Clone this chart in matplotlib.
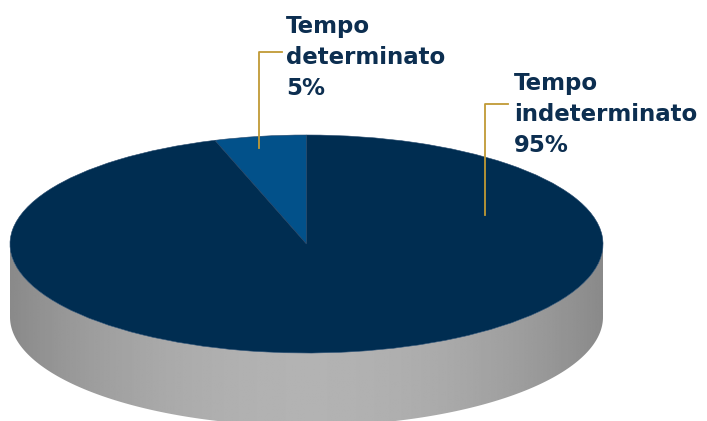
import numpy as np
import matplotlib
matplotlib.use("Agg")
import matplotlib.pyplot as plt
from matplotlib.patches import Polygon

labels = ["Tempo\ndeterminato\n5%", "Tempo\nindeterminato\n95%"]
values = [5, 95]
colors = ["#02518a", "#002d51"]

W, H = 707, 421
fig = plt.figure(figsize=(W / 100, H / 100), dpi=100)

# pie axes: unit ellipse mapped onto pixel box
cx, cy, a, b = 306.5, 244.0, 296.5, 109.0
depth = 73.0 / b
ax = fig.add_axes([0, 0, 1, 1])
ax.pie(values, colors=colors, startangle=90, counterclock=True, radius=1,
       center=(0, 0), frame=True, wedgeprops=dict(linewidth=0.4, edgecolor="#23476b"))
ax.set_aspect("auto")
ax.axis("off")

# side of the cylinder with gray gradient
t = np.linspace(np.pi, 2 * np.pi, 200)
top = np.column_stack([np.cos(t), np.sin(t)])
bot = np.column_stack([np.cos(t[::-1]), np.sin(t[::-1]) - depth])
side = Polygon(np.vstack([top, bot]), closed=True, facecolor="none", edgecolor="none")
ax.add_patch(side)
gx = np.linspace(-1, 1, 400)
g = 0.54 + 0.16 * (1 - gx ** 2)
img = np.tile(g, (2, 1))
im = ax.imshow(img, cmap="gray", vmin=0, vmax=1, extent=[-1, 1, -1 - depth, 0],
               aspect="auto", zorder=0, interpolation="bilinear")
im.set_clip_path(side)
ax.set_xlim(-cx / a, (W - cx) / a)
ax.set_ylim((cy - H) / b, cy / b)

# overlay in pixel coordinates for labels and leader lines
ov = fig.add_axes([0, 0, 1, 1])
ov.set_xlim(0, W)
ov.set_ylim(H, 0)
ov.axis("off")

gold = "#c09a35"
ov.plot([282, 259, 259], [52, 52, 148], color=gold, lw=1.3)
ov.plot([508, 485, 485], [104, 104, 215], color=gold, lw=1.3)

txt = dict(color="#0c2e50", fontsize=16.5, fontweight="bold", family="DejaVu Sans",
           va="top", ha="left", linespacing=1.45)
ov.text(286, 15, labels[0], **txt)
ov.text(514, 72, labels[1], **txt)

fig.savefig("out.png", dpi=100)
